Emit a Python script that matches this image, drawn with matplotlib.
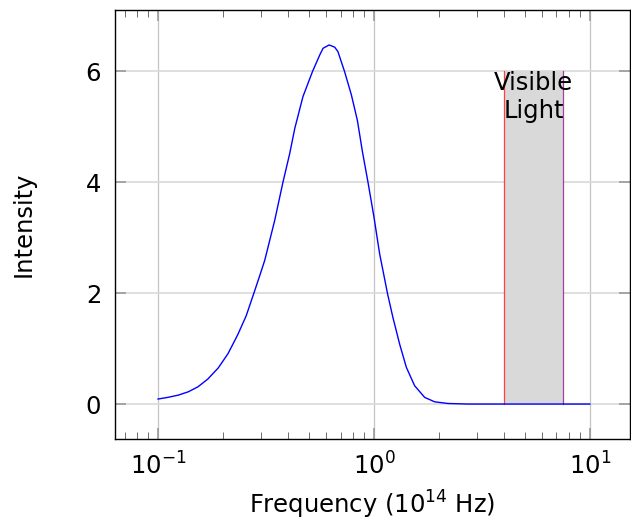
import matplotlib.pyplot as plt
from matplotlib.ticker import LogLocator, NullFormatter

# spectrum (frequency in 1e14 Hz, intensity)
freq = [0.1, 0.111, 0.124, 0.138, 0.153, 0.170, 0.190, 0.211, 0.234, 0.256,
        0.278, 0.295, 0.312, 0.347, 0.379, 0.407, 0.430, 0.469, 0.519, 0.561,
        0.581, 0.620, 0.658, 0.681, 0.731, 0.786, 0.838, 0.884, 0.938, 1.0,
        1.062, 1.157, 1.224, 1.315, 1.413, 1.543, 1.717, 1.91, 2.20, 2.7,
        3.5, 5.0, 7.5, 10.0]
intensity = [0.09, 0.12, 0.16, 0.22, 0.31, 0.45, 0.65, 0.91, 1.25, 1.59,
             2.0, 2.3, 2.59, 3.31, 4.0, 4.51, 4.97, 5.54, 5.99, 6.29,
             6.41, 6.47, 6.43, 6.35, 5.99, 5.57, 5.11, 4.55, 4.0, 3.37,
             2.71, 1.98, 1.56, 1.08, 0.66, 0.33, 0.12, 0.04, 0.01, 0.0,
             0.0, 0.0, 0.0, 0.0]

visible_lo = 4.0
visible_hi = 7.5
visible_top = 6.0
band_label = "Visible\nLight"

y_ticks = [0, 2, 4, 6]

plt.rcParams['font.family'] = ['DejaVu Sans']
plt.rcParams['mathtext.fontset'] = 'dejavusans'

fig = plt.figure(figsize=(6.31, 5.21), dpi=100)
ax = fig.add_axes([0.1823, 0.1574, 0.8157, 0.8234])

ax.set_xscale('log')
ax.set_xlim(0.0632, 15.3)
ax.set_ylim(-0.63, 7.1)

ax.grid(True, which='major', axis='x', color='#c4c4c4', lw=0.9, zorder=0)
ax.grid(True, which='major', axis='y', color='#d9d9d9', lw=1.2, zorder=0)

ax.fill_between([visible_lo, visible_hi], 0, visible_top, color='#d9d9d9',
                lw=0, zorder=1)
ax.plot([visible_lo, visible_lo], [0, visible_top], color='#ff4040', lw=0.9, zorder=2)
ax.plot([visible_hi, visible_hi], [0, visible_top], color='#a040a0', lw=0.9, zorder=2)
ax.text((visible_lo * visible_hi) ** 0.5, visible_top, band_label, ha='center',
        va='top', fontsize=17.5, linespacing=1.2, zorder=4)

ax.plot(freq, intensity, color='#0000ff', lw=1.0, zorder=3)

ax.set_yticks(y_ticks)
ax.xaxis.set_major_locator(LogLocator(base=10, numticks=10))
ax.xaxis.set_minor_locator(LogLocator(base=10, subs=range(2, 10), numticks=20))
ax.xaxis.set_minor_formatter(NullFormatter())

ax.tick_params(which='major', direction='in', length=8, width=1.2, color='#9a9a9a',
               top=True, right=True, labelsize=17.5, pad=10)
ax.tick_params(which='minor', direction='in', length=5, width=0.6, color='#555555',
               top=True, right=True)
ax.tick_params(axis='y', which='minor', left=False, right=False)

for s in ax.spines.values():
    s.set_linewidth(1.0)
    s.set_color('black')

ax.set_xlabel('Frequency ($10^{14}$ Hz)', fontsize=17.5, labelpad=6)
ax.set_ylabel('Intensity', fontsize=17.5, labelpad=36)

fig.savefig('out.png', dpi=100)
